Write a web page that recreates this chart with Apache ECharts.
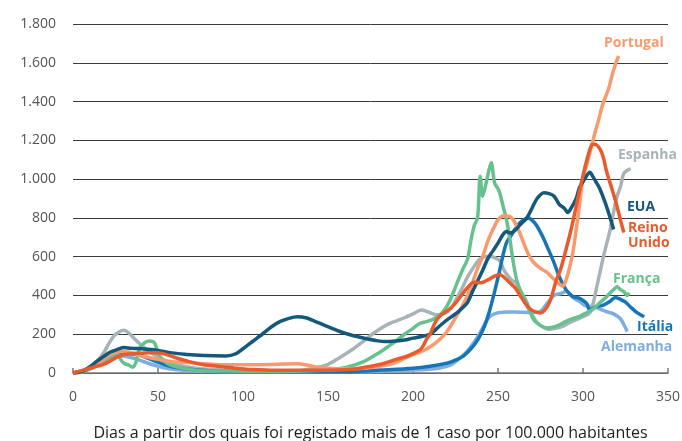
<!DOCTYPE html>
<html><head><meta charset="utf-8">
<script src="https://cdn.jsdelivr.net/npm/echarts@6/dist/echarts.min.js"></script>
<style>html,body{margin:0;padding:0;background:#fff}#c{width:682px;height:441px}</style>
</head><body><div id="c"></div>
<script>
var xTicks = [0, 50, 100, 150, 200, 250, 300, 350];
var yTicks = [0, 200, 400, 600, 800, 1000, 1200, 1400, 1600, 1800];
var xTitle = 'Dias a partir dos quais foi registado mais de 1 caso por 100.000 habitantes';
var names = ['Alemanha', 'Espanha', 'Itália', 'França', 'Portugal', 'EUA', 'Reino Unido'];

var alemanha = [[0,0],[6,10],[12,28],[18,60],[22,80],[26,90],[30,88],[34,80],[38,70],[43,54],[48,40],[53,28],[60,18],[70,12],[85,8],[110,5],[150,4],[180,8],[200,15],[215,25],[222,40],[226,65],[230,95],[233,125],[236,160],[239,200],[242,250],[245,290],[248,305],[251,312],[255,315],[260,315],[265,313],[270,312],[275,318],[279,360],[283,400],[287,410],[290,420],[294,390],[298,368],[302,345],[306,343],[310,330],[314,316],[318,305],[322,280],[324,250],[326,214]];
var espanha = [[0,0],[5,5],[10,28],[15,70],[18,103],[21,150],[24,190],[27,212],[30,220],[33,205],[36,178],[40,145],[45,110],[50,82],[57,54],[65,35],[75,22],[90,15],[110,10],[130,10],[140,22],[150,45],[157,80],[165,125],[171,165],[176,200],[181,230],[186,255],[190,268],[195,285],[200,305],[205,325],[209,315],[214,300],[218,305],[222,330],[226,390],[229,440],[232,495],[236,550],[239,585],[242,600],[245,602],[248,595],[251,580],[253,540],[255,510],[258,480],[261,460],[264,400],[267,345],[270,300],[273,260],[277,235],[280,225],[284,230],[288,240],[292,260],[296,275],[300,290],[304,310],[306,360],[308,440],[310,520],[312,600],[314,670],[316,740],[318,830],[320,910],[322,960],[324,1030],[326,1045],[328,1055]];
var italia = [[0,0],[6,10],[12,30],[18,65],[22,88],[26,100],[30,102],[34,100],[38,95],[43,80],[49,59],[55,40],[61,28],[70,18],[80,12],[100,8],[130,5],[160,5],[181,15],[200,25],[210,35],[220,50],[226,70],[230,90],[233,115],[236,145],[239,185],[242,240],[245,320],[248,420],[251,530],[253,610],[255,672],[257,700],[260,740],[262,767],[265,790],[268,800],[271,780],[273,757],[275,725],[277,690],[280,630],[283,568],[286,498],[290,430],[294,395],[298,385],[302,360],[304,325],[306,335],[309,345],[312,350],[316,370],[319,390],[322,380],[325,365],[328,340],[332,310],[336,290]];
var franca = [[0,0],[6,10],[12,30],[18,65],[22,88],[26,100],[28,70],[30,50],[33,40],[35,30],[37,55],[39,125],[42,155],[45,165],[48,155],[50,105],[53,65],[58,40],[65,25],[76,12],[90,10],[120,8],[150,15],[161,30],[171,59],[181,110],[186,140],[190,165],[195,200],[200,230],[204,255],[208,265],[212,278],[216,300],[220,345],[223,400],[226,466],[229,530],[232,585],[234,680],[236,760],[238,800],[239.5,1015],[241,912],[243,980],[244.5,1040],[246,1085],[248,980],[250,950],[251,930],[253,860],[255,790],[257,690],[259,570],[261,480],[263,430],[267,363],[271,275],[275,245],[279,232],[284,240],[290,266],[294,280],[298,292],[302,310],[306,330],[310,363],[314,395],[318,430],[320,445],[322,430],[324,420],[326,400],[327,415]];
var portugal = [[0,0],[6,12],[12,35],[18,70],[22,95],[26,110],[30,112],[36,100],[42,85],[49,72],[57,60],[67,54],[77,48],[87,43],[100,42],[115,44],[125,47],[132,48],[138,40],[145,28],[155,22],[165,22],[175,28],[183,38],[190,55],[195,75],[200,95],[206,115],[212,146],[216,175],[220,214],[224,270],[228,330],[232,400],[235,466],[238,540],[241,600],[244,680],[247,740],[250,790],[253,810],[256,810],[259,790],[262,740],[265,673],[268,610],[271,570],[275,540],[279,518],[283,482],[286,460],[288,447],[290,480],[292,540],[294,620],[296,740],[298,870],[300,1000],[303,1100],[306,1205],[309,1300],[312,1397],[315,1464],[317,1532],[319,1590],[321,1635]];
var eua = [[0,0],[5,8],[10,33],[14,60],[18,85],[22,108],[26,121],[30,131],[34,128],[38,126],[44,122],[50,116],[57,105],[67,95],[77,90],[90,88],[96,100],[100,125],[106,165],[112,205],[117,240],[122,266],[127,282],[132,290],[137,285],[142,268],[147,250],[152,232],[157,214],[162,200],[167,188],[172,178],[178,168],[184,162],[190,165],[195,170],[200,180],[205,188],[210,200],[216,245],[221,280],[226,311],[229,335],[232,363],[235,420],[238,475],[241,530],[244,590],[247,630],[250,670],[253,715],[255,730],[257,722],[260,735],[263,765],[267,800],[270,850],[273,900],[277,930],[280,925],[283,912],[286,870],[289,850],[291,828],[293,850],[296,900],[298,958],[301,1000],[304,1035],[306,1010],[308,980],[310,948],[313,880],[316,800],[318,740]];
var reino = [[0,0],[6,15],[12,30],[18,45],[22,62],[26,82],[30,95],[35,100],[40,102],[45,105],[50,105],[55,95],[60,80],[67,62],[75,45],[85,35],[95,25],[105,18],[120,14],[140,14],[155,16],[165,20],[171,28],[181,45],[190,70],[196,85],[200,100],[204,118],[206,140],[208,175],[210,200],[213,260],[216,295],[220,320],[224,350],[228,395],[232,440],[236,468],[240,465],[244,480],[248,500],[251,508],[254,490],[257,465],[260,440],[263,400],[266,360],[269,330],[272,315],[275,310],[278,330],[281,380],[284,470],[287,540],[290,637],[293,740],[296,860],[299,980],[302,1090],[305,1175],[307,1180],[310,1155],[312,1110],[314,1035],[317,950],[320,860],[322,790],[324,725]];

var seriesData = [alemanha, espanha, italia, franca, portugal, eua, reino];
var colors = ['#7EAEE0', '#A7B4B7', '#1675B8', '#67C18D', '#F79B6F', '#14587C', '#E95B2C'];

var labelPos = [
  {t: 'Alemanha', x: 601, y: 348, c: 0},
  {t: 'Espanha', x: 618, y: 156, c: 1},
  {t: 'Itália', x: 637, y: 328, c: 2},
  {t: 'França', x: 613, y: 280, c: 3},
  {t: 'Portugal', x: 604, y: 44, c: 4},
  {t: 'EUA', x: 627, y: 208, c: 5},
  {t: 'Reino\nUnido', x: 628, y: 237, c: 6}
];

var chart = echarts.init(document.getElementById('c'));
chart.setOption({
  animation: false,
  grid: {left: 73, right: 14, top: 24, bottom: 68, containLabel: false, outerBoundsMode: 'none'},
  xAxis: {
    type: 'value', min: xTicks[0], max: xTicks[xTicks.length - 1], interval: 50,
    name: xTitle, nameLocation: 'middle', nameGap: 52,
    nameTextStyle: {color: '#1e1e1e', fontSize: 16, fontFamily: 'Open Sans'},
    axisLine: {show: true, lineStyle: {color: '#7a7a7a', width: 1.5}},
    axisTick: {show: true, inside: true, length: 5, lineStyle: {color: '#7a7a7a', width: 1.5}},
    axisLabel: {color: '#555', fontSize: 14, margin: 17, fontFamily: 'Open Sans'},
    splitLine: {show: false}
  },
  yAxis: {
    type: 'value', min: yTicks[0], max: yTicks[yTicks.length - 1], interval: 200,
    axisLine: {show: false}, axisTick: {show: false},
    axisLabel: {color: '#555', fontSize: 14, margin: 17, fontFamily: 'Open Sans',
      formatter: function (v) { return String(v).replace(/\B(?=(\d{3})+(?!\d))/g, '.'); }},
    splitLine: {lineStyle: {color: '#3a3a3a', width: 1}}
  },
  series: seriesData.map(function (d, i) {
    return {
      name: names[i], type: 'line', data: d, showSymbol: false, smooth: 0.3,
      lineStyle: {color: colors[i], width: 3.5}, z: 2 + i
    };
  }),
  graphic: labelPos.map(function (l) {
    return {
      type: 'text', left: l.x, top: l.y - (l.t.indexOf('\n') >= 0 ? 16 : 8), z: 100,
      style: {text: l.t, fill: colors[l.c], font: 'bold 14px "Open Sans"', lineHeight: 15}
    };
  })
});
</script></body></html>
